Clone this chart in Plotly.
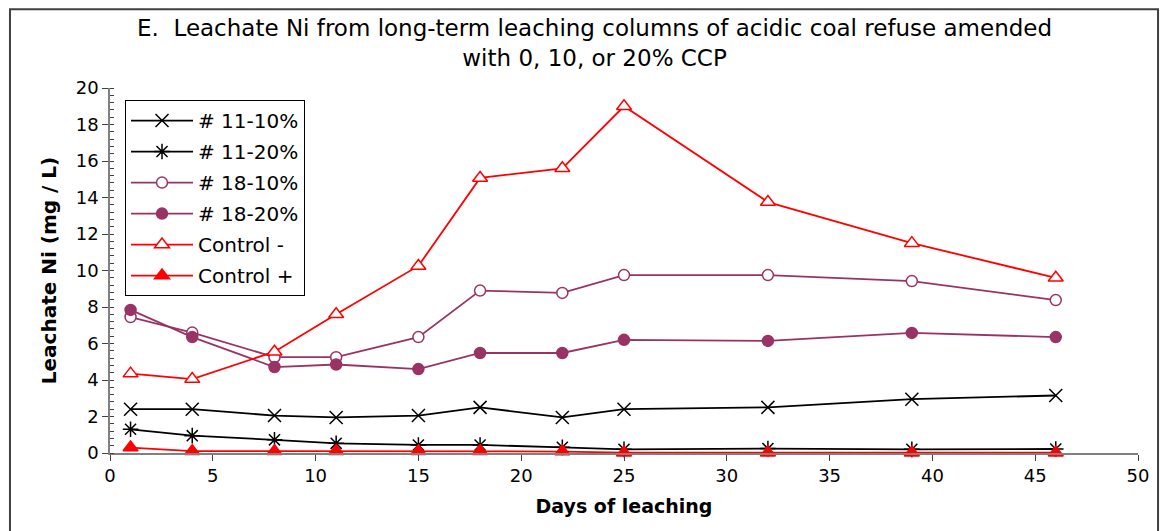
import plotly.graph_objects as go

days = [1, 4, 8, 11, 15, 18, 22, 25, 32, 39, 46]
ni_11_10 = [2.4, 2.4, 2.05, 1.95, 2.05, 2.5, 1.95, 2.4, 2.5, 2.95, 3.15]
ni_11_20 = [1.3, 0.95, 0.72, 0.53, 0.44, 0.44, 0.31, 0.2, 0.24, 0.2, 0.22]
ni_18_10 = [7.45, 6.6, 5.25, 5.25, 6.35, 8.9, 8.77, 9.75, 9.75, 9.42, 8.38]
ni_18_20 = [7.84, 6.35, 4.71, 4.85, 4.6, 5.48, 5.48, 6.2, 6.14, 6.58, 6.35]
ctrl_minus = [4.35, 4.05, 5.55, 7.6, 10.25, 15.07, 15.6, 19.0, 13.75, 11.5, 9.6]
ctrl_plus = [0.3, 0.1, 0.1, 0.1, 0.1, 0.1, 0.08, 0.02, 0.02, 0.01, 0.02]

purple = "#993366"
red = "#FF0000"

series = [
    ("# 11-10%", ni_11_10, "black", "x-thin", 13),
    ("# 11-20%", ni_11_20, "black", "asterisk", 13),
    ("# 18-10%", ni_18_10, purple, "circle-open", 11),
    ("# 18-20%", ni_18_20, purple, "circle", 11),
    ("Control -", ctrl_minus, red, "triangle-up-open", 13),
    ("Control +", ctrl_plus, red, "triangle-up", 13),
]

fig = go.Figure()
for name, vals, col, sym, sz in series:
    mk = dict(symbol=sym, size=sz, color=col, line=dict(color=col, width=1.5))
    if sym in ("circle-open", "triangle-up-open"):
        mk["color"] = "white"
        mk["symbol"] = sym.replace("-open", "")
    fig.add_trace(go.Scatter(x=days, y=vals, name=name, mode="lines+markers",
                             legendgroup=name,
                             line=dict(color=col, width=1.8), marker=mk,
                             cliponaxis=False))

# outer frame (page offset 8px from body margin)
fig.add_shape(type="rect", xref="paper", yref="paper",
              x0=-0.0973, x1=1.0195, y0=-0.25, y1=1.216,
              line=dict(color="#404040", width=2))

fig.add_annotation(
    text="E.  Leachate Ni from long-term leaching columns of acidic coal refuse amended<br>with 0, 10, or 20% CCP",
    xref="paper", yref="paper", x=0.471, y=1.122, xanchor="center", yanchor="middle",
    showarrow=False, font=dict(size=23))

fig.update_layout(
    width=1160, height=523,
    margin=dict(l=102, r=30, t=80, b=78),
    paper_bgcolor="white", plot_bgcolor="white",
    font=dict(family="DejaVu Sans, Arial, sans-serif", size=18, color="black"),
    showlegend=True,
    legend=dict(x=0.0146, y=0.967, xanchor="left", yanchor="top",
                bordercolor="black", borderwidth=1, bgcolor="white",
                font=dict(size=20), tracegroupgap=2, itemwidth=62),
    xaxis=dict(range=[0, 50], dtick=5, showgrid=False, zeroline=False, automargin=False,
               showline=True, linecolor="#808080", linewidth=1.5,
               ticks="outside", ticklen=6, tickcolor="#404040",
               title=dict(text="<b>Days of leaching</b>", standoff=14, font=dict(size=19))),
    yaxis=dict(range=[0, 20], dtick=2, showgrid=False, zeroline=False, automargin=False,
               showline=True, linecolor="#808080", linewidth=1.5,
               ticks="outside", ticklen=6, tickcolor="#404040",
               minor=dict(dtick=0.4, ticks="inside", ticklen=4, tickcolor="#404040"),
               title=dict(text="<b>Leachate Ni (mg / L)</b>", standoff=14, font=dict(size=20))),
)

fig.write_html("out.html")
